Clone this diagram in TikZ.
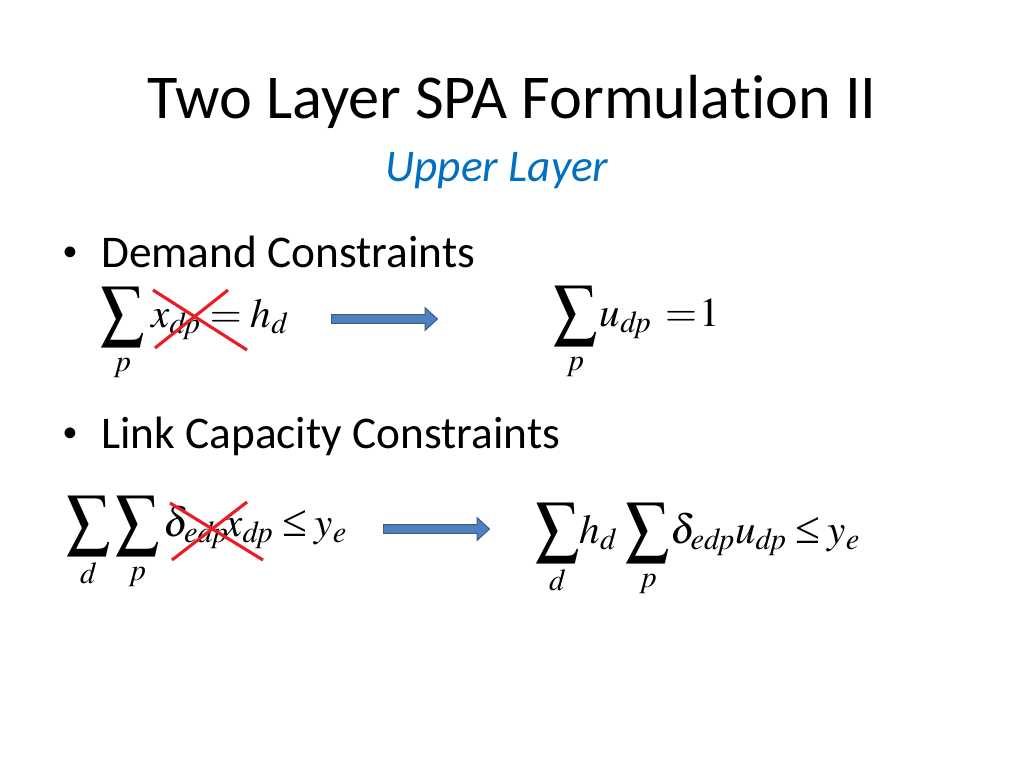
\documentclass[tikz,border=0pt]{standalone}
\usepackage{mathptmx}
\usepackage{graphicx}
\usepackage[no-math]{fontspec}
\newfontfamily\calibri[Ligatures=NoCommon]{Carlito}
\newfontfamily\arialf{Liberation Sans}
\newfontfamily\tnr{Liberation Serif}
\usetikzlibrary{shapes.arrows}
\definecolor{ttlblue}{RGB}{0,112,192}
\definecolor{arrfill}{RGB}{79,129,189}
\definecolor{arrline}{RGB}{56,93,138}
\definecolor{xred}{RGB}{235,28,36}
\tikzset{
  px/.style={x=0.7058pt,y=-0.7058pt},
  txt/.style={inner sep=0pt,font=\calibri\fontsize{32}{38}\selectfont},
  bul/.style={inner sep=0pt,font=\arialf\fontsize{28}{34}\selectfont,anchor=base},
  eqn/.style={inner sep=0pt,font=\fontsize{29}{36}\selectfont,anchor=base west},
  cross/.style={draw=xred,line width=2.2pt},
  blockarrow/.style={single arrow,draw=arrline,fill=arrfill,line width=0.7pt,
    inner sep=0pt,inner ysep=2.8pt,single arrow head extend=4.9pt,
    single arrow tip angle=85,minimum height=74.8pt,anchor=west,text width=0pt}
}
\newcommand{\Sg}{\mathop{\vcenter{\hbox{\scalebox{1.05}[1.18]{$\displaystyle\sum$}}}}\limits}
\newcommand{\myleq}{\mathrel{\hbox{\tnr\fontsize{32}{36}\selectfont ≤}}}
\begin{document}
\begin{tikzpicture}[px]
\useasboundingbox (0,0) rectangle (1024,768);
\fill[white] (0,0) rectangle (1024,768);
\node[inner sep=0pt,font=\calibri\fontsize{44}{52}\selectfont,anchor=base] (title) at (512,118) {Two Layer SPA Formulation II};
\node[inner sep=0pt,font=\calibri\itshape\fontsize{32}{38}\selectfont,text=ttlblue,anchor=base] (sub) at (497,181) {Upper Layer};
\node[bul] (b1) at (70,265) {•};
\node[txt,anchor=base west] (t1) at (101,267) {Demand Constraints};
\node[bul] (b2) at (70,446) {•};
\node[txt,anchor=base west] (t2) at (101,448) {Link Capacity Constraints};
% equations
\node[eqn] (e1l) at (100,327) {$\displaystyle\Sg_p \mkern1mu x_{\mathit{dp}} = h_{\mathit{d}}$};
\node[eqn] (e1r) at (553,326) {$\displaystyle\Sg_p \mkern-1mu u_{\mathit{dp}} \mkern6mu{=}\mkern1mu 1$};
\node[eqn] (e2l) at (66,536) {$\displaystyle\Sg_d\Sg_p \delta_{\mathit{edp}}\mkern-2mu x_{\mathit{dp}} \myleq\mkern-1mu y_{\mathit{e}}$};
\node[eqn] (e2r) at (535,543) {$\displaystyle\Sg_d \mkern-2mu h_{\mathit{d}}\mkern2mu\Sg_p \mkern-2mu\delta_{\mathit{edp}}u_{\mathit{dp}} \myleq\mkern-1mu y_{\mathit{e}}$};
% arrows
\node[blockarrow] (a1) at (331,319) {};
\node[blockarrow] (a2) at (383,529) {};
% crosses
\coordinate (c1a) at (153,290); \coordinate (c1b) at (247,350);
\coordinate (c1c) at (228,290); \coordinate (c1d) at (155,348);
\coordinate (c2a) at (170,503); \coordinate (c2b) at (263,560);
\coordinate (c2c) at (247,502); \coordinate (c2d) at (172,560);
\draw[cross] (c1a) -- (c1b);
\draw[cross] (c1c) -- (c1d);
\draw[cross] (c2a) -- (c2b);
\draw[cross] (c2c) -- (c2d);
\end{tikzpicture}
\end{document}
